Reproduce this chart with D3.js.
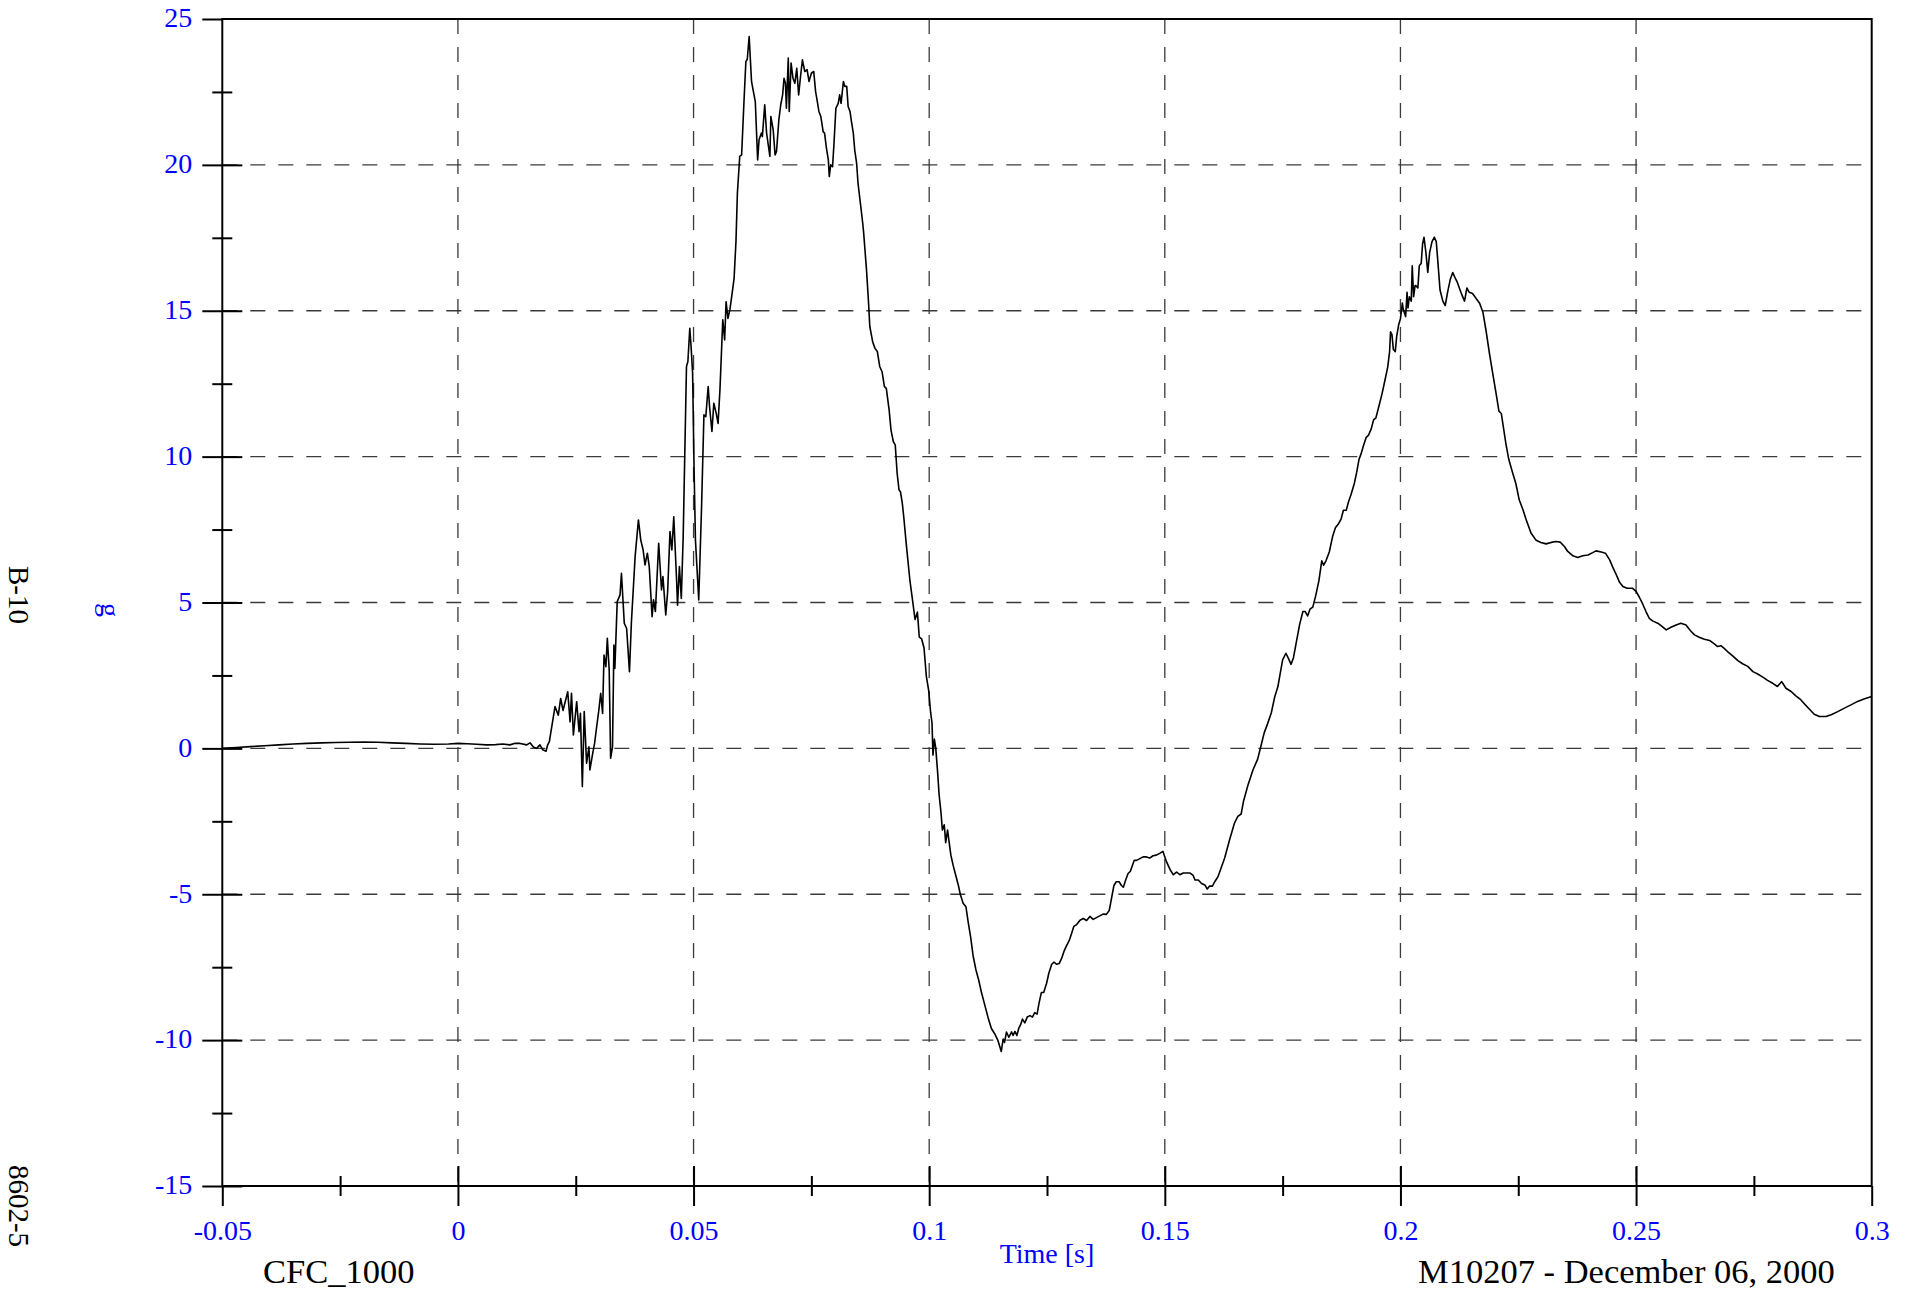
<!DOCTYPE html>
<html><head><meta charset="utf-8">
<script src="https://cdn.jsdelivr.net/npm/d3@7"></script>
<style>html,body{margin:0;padding:0;background:#fff;overflow:hidden}</style>
</head><body>
<svg id="chart" width="1914" height="1294"></svg>
<script>
// ---------- data ----------
const timeS = [
 -0.05,-0.047,-0.044,-0.041,-0.038,-0.035,-0.032,-0.029,-0.026,-0.023,
 -0.020,-0.017,-0.014,-0.011,-0.008,-0.005,-0.002,0.000,0.002,0.004,
 0.006,0.008,0.0095,0.011,0.012,
 0.0132,0.0146,0.0153,0.0160,0.0167,0.0174,0.0180,0.0187,0.0190,0.0194,
 0.0206,0.0213,0.0218,0.0223,0.0233,0.0238,0.0241,0.0245,0.0252,0.0257,
 0.0260,0.0264,0.0268,0.0273,0.0278,0.0280,0.0286,0.0290,0.0294,0.0299,
 0.0303,0.0307,0.0310,0.0314,0.0317,0.0321,0.0324,0.0328,0.0331,0.0333,
 0.0338,0.0344,0.0347,0.0353,0.0358,0.0364,0.0368,0.0376,0.0383,0.0388,
 0.0393,0.0397,0.0402,0.0406,0.0412,0.0415,0.0419,0.0426,0.0432,0.0435,
 0.0441,0.0445,0.0450,0.0454,0.0458,0.0464,0.0466,0.0470,0.0474,0.0478,
 0.0485,0.0488,0.0492,0.0495,0.0498,0.0501,0.0504,0.0511,0.0517,0.0522,
 0.0526,0.0531,0.0534,0.0539,0.0543,0.0548,0.0552,
 0.0556,0.0562,0.0566,0.0569,0.0573,0.0577,0.0581,0.0586,0.0590,0.0593,
 0.0598,0.0602,0.0607,0.0611,0.0614,0.0618,0.0623,0.0627,0.0631,0.0636,
 0.0639,0.0644,0.0646,0.0651,0.0655,0.0659,0.0662,0.0664,0.0669,0.0673,
 0.0676,0.0681,0.0685,0.0689,0.0692,0.0695,0.0697,0.0701,0.0703,0.0707,
 0.0711,0.0715,0.0719,0.0723,0.0727,0.0731,0.0736,0.0741,0.0745,0.0750,
 0.0755,0.0759,0.0762,0.0766,0.0770,0.0775,0.0778,0.0782,0.0786,0.0788,
 0.0791,0.0795,0.0798,0.0802,0.0807,0.0810,0.0813,0.0818,0.0821,0.0825,
 0.0828,0.0832,0.0835,0.0839,0.0842,0.0846,0.0849,0.0854,0.0859,0.0861,
 0.0867,0.0871,0.0874,0.0880,0.0885,0.0890,0.0895,0.0900,0.0905,0.0909,
 0.0915,0.0919,0.0924,0.0928,0.0932,0.0936,0.0939,0.0943,0.0946,0.0952,
 0.0959,0.0965,0.0970,0.0975,0.0979,0.0984,0.0989,0.0994,0.0999,0.1003,
 0.1006,0.1008,0.1011,0.1014,0.1018,0.1021,0.1025,0.1028,0.1032,0.1035,
 0.1039,0.1042,0.1046,0.1051,0.1057,0.1062,0.1066,0.1072,0.1078,0.1083,
 0.1088,0.1093,0.1099,0.1105,0.1111,0.1118,0.1125,0.1132,0.1139,0.1146,
 0.1153,0.1157,0.1160,0.1164,0.1169,0.1175,0.1178,0.1182,0.1186,0.1190,
 0.1194,0.1198,0.1203,0.1208,0.1214,0.1219,0.1224,0.1229,0.1233,0.1238,
 0.1243,0.1249,0.1254,0.1260,0.1265,0.1270,0.1276,0.1281,0.1286,0.1291,
 0.1297,0.1302,0.1307,0.1313,0.1320,0.1327,0.1334,0.1341,0.1348,0.1355,
 0.1362,0.1369,0.1376,0.1382,0.1387,0.1392,0.1397,0.1403,0.1408,0.1412,
 0.1417,0.1422,0.1427,0.1431,0.1435,0.1440,0.1447,0.1454,0.1461,0.1468,
 0.1475,0.1482,0.1489,0.1496,0.1500,0.1504,0.1511,0.1518,0.1525,0.1532,
 0.1539,0.1546,0.1553,0.1560,0.1564,0.1571,0.1578,0.1585,0.1590,0.1595,
 0.1601,0.1606,0.1613,
 0.1627,0.1637,0.1648,0.1655,0.1662,0.1667,0.1676,0.1687,0.1697,0.1704,
 0.1711,0.1718,0.1726,0.1733,0.1740,0.1745,0.1750,0.1757,0.1763,0.1768,
 0.1773,0.1779,0.1786,0.1793,0.1798,0.1803,0.1808,0.1814,0.1820,0.1827,
 0.1833,0.1837,0.1842,0.1849,0.1856,0.1862,0.1869,0.1874,0.1879,0.1885,
 0.1890,0.1895,0.1902,0.1907,0.1912,0.1917,0.1921,0.1927,0.1932,0.1938,
 0.1943,0.1948,0.1954,0.1961,0.1967,0.1973,0.1977,0.1979,0.1982,0.1985,
 0.1989,0.1992,0.1996,0.2000,0.2004,0.2006,0.2011,0.2014,0.2016,0.2019,
 0.2023,0.2025,0.2028,0.2031,0.2033,0.2037,0.2040,0.2044,0.2047,0.2050,
 0.2054,0.2058,0.2062,0.2067,0.2072,0.2076,0.2079,0.2084,0.2090,0.2095,
 0.2100,0.2106,0.2111,0.2115,0.2120,0.2125,0.2130,0.2136,0.2141,0.2146,
 0.2153,0.2161,0.2168,0.2175,0.2182,0.2189,0.2196,0.2203,0.2209,0.2214,
 0.2219,0.2224,0.2230,0.2238,0.2245,
 0.2252,0.2260,0.2267,0.2277,0.2288,0.2298,0.2309,0.2320,0.2330,0.2339,
 0.2348,0.2355,0.2366,0.2376,0.2387,0.2398,0.2408,0.2415,0.2426,0.2435,
 0.2444,0.2450,0.2458,0.2465,0.2472,0.2481,0.2492,0.2500,0.2507,0.2514,
 0.2521,0.2528,0.2535,0.2546,0.2555,0.2564,0.2574,0.2585,0.2595,0.2606,
 0.2615,0.2624,0.2634,0.2645,0.2656,0.2666,0.2673,0.2680,0.2687,0.2694,
 0.2705,0.2716,0.2726,0.2737,0.2748,0.2758,0.2769,0.2779,0.2790,0.2800,
 0.2809,0.2818,0.2829,0.2839,0.2848,0.2857,0.2868,0.2878,0.2889,0.2903,
 0.2914,0.2928,0.2942,0.2956,0.2970,0.2985,0.3000
];
const accelG = [
 0.00,0.03,0.06,0.09,0.12,0.15,0.17,0.19,0.20,0.21,
 0.22,0.21,0.19,0.17,0.15,0.14,0.15,0.17,0.16,0.14,
 0.12,0.13,0.15,0.12,0.17,
 0.17,0.12,0.19,0.05,0.00,0.12,-0.05,-0.10,0.10,0.23,
 1.43,1.14,1.71,1.30,1.94,0.91,1.89,0.46,1.60,0.57,
 1.20,-1.31,1.26,-0.51,0.05,-0.74,-0.17,0.17,0.69,1.31,
 1.89,1.20,3.20,2.80,3.77,2.69,-0.34,0.05,3.54,2.74,
 5.03,5.26,6.00,4.29,4.11,2.63,4.29,6.57,7.83,7.14,
 6.80,6.29,6.69,6.23,4.51,5.09,4.69,7.03,5.43,5.89,
 4.57,5.37,7.43,6.80,7.94,5.77,4.91,6.23,5.14,7.26,
 13.09,13.26,14.40,13.71,12.86,9.66,7.14,5.09,8.29,11.43,
 11.37,12.40,11.71,10.86,11.83,11.49,11.14,
 12.29,14.69,14.00,15.31,14.74,15.03,15.49,16.11,17.37,19.03,
 20.29,20.34,22.17,23.54,23.62,24.40,22.86,22.51,22.17,20.17,
 20.86,21.09,20.97,22.06,21.09,20.63,20.29,21.66,21.20,20.34,
 20.46,21.54,22.06,22.40,22.97,22.80,21.94,23.66,21.83,23.49,
 22.97,22.80,23.31,22.40,23.03,23.60,23.20,23.26,22.86,23.14,
 23.20,22.51,22.23,21.83,21.66,21.14,21.09,20.57,20.17,19.60,
 20.00,19.94,20.74,21.94,22.11,22.40,22.11,22.86,22.69,22.69,
 22.00,21.83,21.49,21.09,20.51,20.06,19.37,18.69,18.00,17.66,
 16.40,15.37,14.46,13.94,13.71,13.60,13.09,12.91,12.40,12.34,
 11.60,10.91,10.51,10.40,9.43,8.86,8.80,8.40,7.94,6.90,
 5.77,5.04,4.42,4.67,3.81,3.75,3.45,2.47,1.98,1.24,
 0.87,-0.23,0.32,0.00,-0.84,-1.58,-2.19,-2.80,-2.62,-3.23,
 -2.80,-3.17,-3.66,-4.02,-4.39,-4.70,-5.00,-5.31,-5.43,-5.98,
 -6.47,-7.09,-7.58,-7.94,-8.37,-8.80,-9.23,-9.60,-9.78,-10.02,
 -10.39,-9.96,-10.08,-9.72,-9.90,-9.72,-9.84,-9.70,-9.84,-9.60,
 -9.47,-9.28,-9.41,-9.21,-9.16,-9.21,-9.06,-9.11,-8.74,-8.37,
 -8.37,-8.06,-7.70,-7.40,-7.33,-7.40,-7.37,-7.20,-6.96,-6.78,
 -6.59,-6.35,-6.10,-6.04,-5.89,-5.83,-5.90,-5.76,-5.86,-5.80,
 -5.74,-5.68,-5.69,-5.56,-5.13,-4.70,-4.57,-4.57,-4.70,-4.76,
 -4.51,-4.29,-4.21,-4.02,-3.84,-3.84,-3.78,-3.72,-3.72,-3.76,
 -3.68,-3.66,-3.60,-3.53,-3.72,-3.90,-4.15,-4.33,-4.24,-4.33,
 -4.27,-4.27,-4.27,-4.35,-4.51,-4.51,-4.63,-4.68,-4.82,-4.72,
 -4.72,-4.57,-4.39,
 -3.76,-3.16,-2.55,-2.33,-2.25,-1.81,-1.28,-0.74,-0.37,0.08,
 0.54,0.84,1.22,1.75,2.12,2.58,3.03,3.26,3.06,2.88,
 3.11,3.63,4.24,4.69,4.69,4.54,4.77,4.84,5.22,5.75,
 6.43,6.28,6.43,6.73,7.26,7.56,7.71,7.86,8.16,8.16,
 8.46,8.69,9.07,9.45,9.90,10.12,10.35,10.65,10.73,10.95,
 11.26,11.33,11.71,12.16,12.61,13.07,13.60,14.28,14.18,13.67,
 13.60,14.12,14.50,14.73,15.26,15.05,14.80,15.63,15.10,15.48,
 15.33,16.54,15.48,15.86,15.86,15.78,16.54,16.62,17.29,17.52,
 17.00,16.31,17.00,17.37,17.52,17.37,16.77,15.71,15.33,15.18,
 15.63,16.09,16.31,16.16,16.00,15.78,15.56,15.33,15.78,15.63,
 15.59,15.41,15.26,14.95,14.28,13.52,12.84,12.16,11.56,11.48,
 10.95,10.42,9.90,9.45,9.07,
 8.52,8.18,7.83,7.38,7.13,7.06,7.01,7.06,7.09,7.07,
 6.92,6.75,6.60,6.54,6.60,6.63,6.71,6.77,6.73,6.69,
 6.46,6.23,5.95,5.69,5.55,5.49,5.49,5.38,5.18,4.95,
 4.69,4.46,4.37,4.29,4.18,4.06,4.15,4.23,4.29,4.23,
 4.04,3.89,3.81,3.74,3.70,3.58,3.49,3.52,3.43,3.32,
 3.17,3.01,2.90,2.81,2.63,2.55,2.44,2.33,2.23,2.12,
 2.29,2.06,1.95,1.80,1.69,1.53,1.34,1.17,1.09,1.09,
 1.15,1.26,1.38,1.49,1.61,1.70,1.78
];

const xDomain = [-0.05, 0.3];
const yDomain = [-15, 25];
const xTickValues = [-0.05, 0, 0.05, 0.1, 0.15, 0.2, 0.25, 0.3];
const xTickLabels = ["-0.05", "0", "0.05", "0.1", "0.15", "0.2", "0.25", "0.3"];
const xMinorTicks = [-0.025, 0.025, 0.075, 0.125, 0.175, 0.225, 0.275];
const yTickValues = [-15, -10, -5, 0, 5, 10, 15, 20, 25];
const yTickLabels = ["-15", "-10", "-5", "0", "5", "10", "15", "20", "25"];
const yMinorTicks = [-12.5, -7.5, -2.5, 2.5, 7.5, 12.5, 17.5, 22.5];
const xTitle = "Time [s]";
const yTitle = "g";
const sideTop = "B-10";
const sideBottom = "8602-5";
const footLeft = "CFC_1000";
const footRight = "M10207 - December 06, 2000";

// ---------- layout ----------
const L = 222.3, R = 1871.7, T = 19, B = 1186;
const FONT = "'Liberation Serif', 'Times New Roman', Times, serif";
const BLUE = "#0000ff";

const svg = d3.select("#chart");
svg.append("rect").attr("width", 1914).attr("height", 1294).attr("fill", "#fff");

const x = d3.scaleLinear().domain(xDomain).range([L, R]);
const y = d3.scaleLinear().domain(yDomain).range([B, T]);

// grid
const grid = svg.append("g").attr("stroke", "#3a3a3a").attr("stroke-width", 1.3)
  .attr("stroke-dasharray", "15,13").attr("fill", "none");
grid.selectAll("line.v").data(xTickValues.slice(1, -1)).join("line")
  .attr("class", "v").attr("x1", d => x(d)).attr("x2", d => x(d))
  .attr("y1", T).attr("y2", B);
grid.selectAll("line.h").data(yTickValues.slice(1, -1)).join("line")
  .attr("class", "h").attr("x1", L).attr("x2", R)
  .attr("y1", d => y(d)).attr("y2", d => y(d));

// data line
svg.append("clipPath").attr("id", "clip").append("rect")
  .attr("x", L).attr("y", T).attr("width", R - L).attr("height", B - T);
const pts = d3.range(Math.min(timeS.length, accelG.length)).map(i => [timeS[i], accelG[i]]);
svg.append("path").datum(pts)
  .attr("clip-path", "url(#clip)")
  .attr("fill", "none").attr("stroke", "#000").attr("stroke-width", 1.6)
  .attr("stroke-linejoin", "round")
  .attr("d", d3.line().x(d => x(d[0])).y(d => y(d[1])));

function styleAxis(g, labelled) {
  g.select(".domain").remove();
  g.selectAll(".tick line").attr("stroke", "#000").attr("stroke-width", 2);
  if (labelled) {
    g.selectAll(".tick text").attr("fill", BLUE).attr("font-family", FONT).attr("font-size", 28);
  } else {
    g.selectAll(".tick text").remove();
  }
}

// y axis: outward major ticks with labels
svg.append("g").attr("transform", `translate(${L},0)`)
  .call(d3.axisLeft(y).tickValues(yTickValues).tickSize(20).tickPadding(10)
    .tickFormat((d, i) => yTickLabels[i]))
  .call(g => styleAxis(g, true))
  .call(g => g.selectAll(".tick text").attr("dy", "0.28em"));
// y inward major ticks
svg.append("g").attr("transform", `translate(${L},0)`)
  .call(d3.axisRight(y).tickValues(yTickValues.slice(0, -1)).tickSize(20).tickFormat(""))
  .call(g => styleAxis(g, false));
// y minor ticks crossing axis
svg.append("g").attr("transform", `translate(${L + 10},0)`)
  .call(d3.axisLeft(y).tickValues(yMinorTicks).tickSize(20).tickFormat(""))
  .call(g => styleAxis(g, false));

// x axis: outward major ticks with labels
svg.append("g").attr("transform", `translate(0,${B})`)
  .call(d3.axisBottom(x).tickValues(xTickValues).tickSize(20).tickPadding(14)
    .tickFormat((d, i) => xTickLabels[i]))
  .call(g => styleAxis(g, true));
// x inward major ticks
svg.append("g").attr("transform", `translate(0,${B})`)
  .call(d3.axisTop(x).tickValues(xTickValues.slice(1, -1)).tickSize(20).tickFormat(""))
  .call(g => styleAxis(g, false));
// x minor ticks crossing axis
svg.append("g").attr("transform", `translate(0,${B - 10})`)
  .call(d3.axisBottom(x).tickValues(xMinorTicks).tickSize(20).tickFormat(""))
  .call(g => styleAxis(g, false));

// frame
svg.append("rect").attr("x", L).attr("y", T).attr("width", R - L).attr("height", B - T)
  .attr("fill", "none").attr("stroke", "#000").attr("stroke-width", 2);

// titles
svg.append("text").attr("x", (L + R) / 2).attr("y", 1263).attr("text-anchor", "middle")
  .attr("font-family", FONT).attr("font-size", 28).attr("fill", BLUE).text(xTitle);
svg.append("text").attr("transform", "translate(101,610) rotate(90)").attr("text-anchor", "middle")
  .attr("font-family", FONT).attr("font-size", 28).attr("fill", BLUE).text(yTitle);
svg.append("text").attr("transform", "translate(9,595) rotate(90)").attr("text-anchor", "middle")
  .attr("font-family", FONT).attr("font-size", 29).attr("fill", "#000").text(sideTop);
svg.append("text").attr("transform", "translate(9,1206) rotate(90)").attr("text-anchor", "middle")
  .attr("font-family", FONT).attr("font-size", 29).attr("fill", "#000").text(sideBottom);
svg.append("text").attr("x", 263).attr("y", 1283)
  .attr("font-family", FONT).attr("font-size", 34.5).attr("fill", "#000").text(footLeft);
svg.append("text").attr("x", 1418).attr("y", 1283)
  .attr("font-family", FONT).attr("font-size", 34.5).attr("fill", "#000").text(footRight);
</script>
</body></html>
